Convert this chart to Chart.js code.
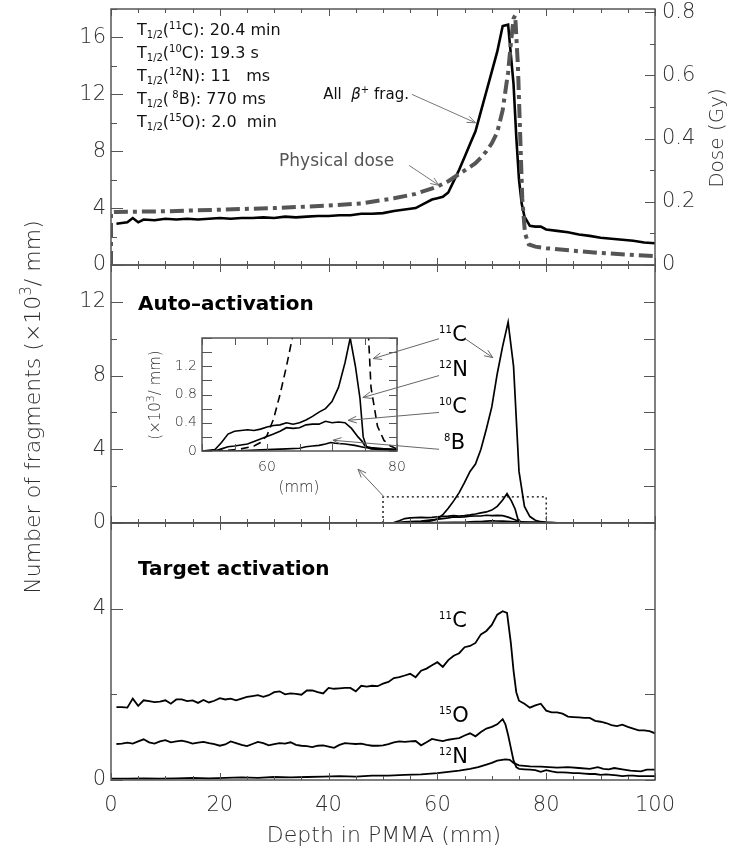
<!DOCTYPE html>
<html>
<head>
<meta charset="utf-8">
<title>Depth profiles of beta+ emitters in PMMA</title>
<script src="https://cdn.jsdelivr.net/npm/chart.js@4.4.1/dist/chart.umd.min.js"></script>
<style>
  html, body { margin: 0; padding: 0; background: #fff; }
  #fig { position: relative; width: 729px; height: 849px; overflow: hidden; background: #fff; }
  #fig canvas { position: absolute; left: 0; top: 0; }
</style>
</head>
<body>
<div id="fig">
  <canvas id="cTop" width="729" height="849"></canvas>
  <canvas id="cAuto" width="729" height="849"></canvas>
  <canvas id="cTarget" width="729" height="849"></canvas>
  <canvas id="cInset" width="729" height="849"></canvas>
</div>
<script>
// ---------- tick labels ----------
const depthTicks = [0, 20, 40, 60, 80, 100];
const fragTicksTop = [0, 4, 8, 12, 16];
const doseTicks = [0, 0.2, 0.4, 0.6, 0.8];
const fragTicksAuto = [0, 4, 8, 12];
const fragTicksTarget = [0, 4];
const insetDepthTicks = [60, 80];
const insetFragTicks = [0, 0.4, 0.8, 1.2];

// ---------- top panel: all beta+ fragments (x10^3/mm) and physical dose (Gy) ----------
const betaDepth = [1, 2, 3, 4, 5, 6, 8, 10, 12, 14, 16, 18, 20, 22, 24, 26, 28, 30, 32, 34, 36, 38, 40, 42, 44, 46, 48, 50, 52, 54, 56, 58,
  59, 60, 61, 62, 63, 64, 65, 66, 67, 68, 69, 70, 71, 72, 73, 73.5, 74, 74.5, 75, 75.5, 76, 77, 78, 79, 80, 82, 84, 86, 88, 90, 92, 94, 96, 98, 100];
const betaAll = [2.9, 2.95, 3.0, 3.3, 3.0, 3.2, 3.15, 3.25, 3.2, 3.25, 3.2, 3.25, 3.3, 3.25, 3.3, 3.3, 3.35, 3.3, 3.4, 3.35, 3.4, 3.45, 3.45, 3.5, 3.5, 3.6, 3.6, 3.65, 3.8, 3.9, 4.0, 4.4,
  4.6, 4.7, 4.8, 5.1, 5.9, 6.7, 7.6, 8.5, 9.4, 10.8, 12.2, 13.6, 15.0, 16.8, 16.9, 14.8, 12.7, 9.0, 6.0, 4.3, 3.4, 2.75, 2.7, 2.7, 2.5, 2.4, 2.3, 2.15, 2.05, 1.92, 1.85, 1.78, 1.7, 1.58, 1.53];

const doseDepth = [0, 0, 1, 10, 20, 30, 40, 46, 52, 56, 60, 62, 64, 66, 67, 68, 69, 70, 71, 72,
  72.5, 73, 73.5, 74, 74.3, 74.8, 75.2, 75.6, 76.1, 76.8, 78, 80, 85, 90, 95, 100];
const doseGy = [0, 0.168, 0.168, 0.170, 0.175, 0.180, 0.188, 0.195, 0.211, 0.225, 0.248, 0.265, 0.288, 0.31, 0.322, 0.34, 0.36, 0.385, 0.42, 0.49,
  0.55, 0.61, 0.70, 0.78, 0.79, 0.63, 0.42, 0.21, 0.10, 0.065, 0.058, 0.053, 0.045, 0.038, 0.033, 0.028];

// ---------- middle panel: auto-activation (x10^3/mm) ----------
const auto11CDepth = [0, 50, 54, 56, 58, 59, 60, 61, 62, 63, 64, 65, 66, 67, 68, 69, 70, 71, 72, 73, 74, 75, 76, 77, 78, 79, 80, 82, 84, 100];
const auto11C = [0, 0, 0.01, 0.03, 0.07, 0.12, 0.22, 0.45, 0.8, 1.2, 1.65, 2.2, 2.8, 3.2, 4.0, 5.1, 6.3, 8.1, 9.6, 10.9, 8.5, 2.8, 0.9, 0.35, 0.15, 0.07, 0.03, 0.01, 0, 0];

const auto12NDepth = [0, 50, 52, 53, 54, 55, 56, 57, 58, 59, 60, 61, 62, 63, 64, 65, 66, 67, 68, 69, 70, 71, 72,
  72.8, 73.6, 74.3, 74.8, 75.3, 76, 77, 78, 80, 82, 84, 100];
const auto12N = [0, 0, 0.02, 0.12, 0.24, 0.28, 0.29, 0.3, 0.29, 0.31, 0.34, 0.36, 0.37, 0.4, 0.38, 0.4, 0.44, 0.49, 0.55, 0.6, 0.7, 0.9, 1.25,
  1.6, 1.2, 0.75, 0.2, 0.06, 0.05, 0.04, 0.03, 0.02, 0.01, 0, 0];

const auto10CDepth = [0, 52, 53, 54, 55, 57, 59, 61, 62, 63, 64, 65, 66, 67, 68, 69, 70, 71, 72, 73, 74, 74.6, 75.1, 76, 78, 80, 82, 100];
const auto10C = [0, 0, 0.03, 0.06, 0.07, 0.1, 0.17, 0.24, 0.28, 0.33, 0.32, 0.33, 0.37, 0.38, 0.38, 0.42, 0.4, 0.41, 0.4, 0.32, 0.2, 0.14, 0.07, 0.03, 0.02, 0.01, 0, 0];

const auto8BDepth = [0, 55, 60, 63, 65, 66, 67, 68, 69, 69.8, 70.5, 72, 73.5, 75, 76, 78, 80, 82, 85, 100];
const auto8B = [0, 0, 0.02, 0.03, 0.04, 0.06, 0.07, 0.08, 0.1, 0.12, 0.11, 0.1, 0.08, 0.05, 0.04, 0.03, 0.02, 0.01, 0, 0];

// region enlarged in the inset
const zoomBoxDepth = [50, 50, 80, 80];
const zoomBoxLevel = [0, 1.42, 1.42, 0];

// ---------- bottom panel: target activation (x10^3/mm) ----------
const target11CDepth = [1, 2, 3, 4, 5, 6, 7, 8, 9, 10, 11, 12, 13, 14, 15, 16, 17, 18, 19, 20, 21, 22, 23, 24, 25, 26, 27, 28, 29, 30,
  31, 32, 33, 34, 35, 36, 37, 38, 39, 40, 41, 42, 43, 44, 45, 46, 47, 48, 49, 50, 51, 52, 53, 54, 55, 56, 57, 58, 59, 60,
  61, 62, 63, 64, 65, 66, 67, 68, 69, 70, 71, 72, 72.8, 73.5, 74, 74.5, 75, 76, 77, 78, 79, 80,
  81, 82, 83, 84, 85, 86, 87, 88, 89, 90, 91, 92, 93, 94, 95, 96, 97, 98, 99, 100];
const target11C = [1.70, 1.70, 1.69, 1.90, 1.73, 1.86, 1.84, 1.82, 1.83, 1.86, 1.78, 1.88, 1.88, 1.84, 1.86, 1.80, 1.87, 1.81, 1.85, 1.91, 1.88, 1.90, 1.86, 1.90, 1.94, 1.96, 1.98, 1.94, 1.98, 2.05,
  2.07, 2.0, 2.02, 2.01, 1.99, 2.09, 2.09, 2.05, 2.02, 2.15, 2.13, 2.14, 2.15, 2.15, 2.07, 2.2, 2.18, 2.2, 2.19, 2.25, 2.29, 2.38, 2.4, 2.44, 2.48, 2.40, 2.55, 2.6, 2.68, 2.75,
  2.64, 2.8, 2.9, 2.96, 3.1, 3.13, 3.2, 3.4, 3.48, 3.62, 3.86, 3.94, 3.9, 3.2, 2.55, 2.05, 1.85, 1.78, 1.69, 1.74, 1.78, 1.62,
  1.58, 1.58, 1.55, 1.48, 1.47, 1.46, 1.45, 1.45, 1.38, 1.36, 1.33, 1.28, 1.26, 1.29, 1.24, 1.2, 1.16, 1.16, 1.14, 1.09];

const target15ODepth = [1, 2, 3, 4, 5, 6, 7, 8, 9, 10, 11, 12, 13, 14, 15, 16, 17, 18, 19, 20, 21, 22, 23, 24, 25, 26, 27, 28, 29, 30,
  31, 32, 33, 34, 35, 36, 37, 38, 39, 40, 41, 42, 43, 44, 45, 46, 47, 48, 49, 50, 51, 52, 53, 54, 55, 56, 57, 58, 59, 60,
  61, 62, 63, 64, 65, 66, 67, 68, 69, 70, 71, 72, 72.5, 73, 73.5, 74, 74.5, 75, 76, 77, 78, 79, 80,
  81, 82, 83, 84, 85, 86, 87, 88, 89, 90, 91, 92, 93, 94, 95, 96, 97, 98, 99, 100];
const target15O = [0.84, 0.85, 0.87, 0.85, 0.9, 0.95, 0.88, 0.85, 0.9, 0.93, 0.88, 0.9, 0.92, 0.89, 0.85, 0.87, 0.89, 0.86, 0.84, 0.8, 0.83, 0.9, 0.86, 0.82, 0.79, 0.84, 0.89, 0.86, 0.81, 0.84,
  0.86, 0.85, 0.88, 0.82, 0.8, 0.79, 0.77, 0.8, 0.81, 0.78, 0.75, 0.82, 0.86, 0.85, 0.84, 0.85, 0.82, 0.8, 0.8, 0.81, 0.84, 0.88, 0.9, 0.89, 0.9, 0.91, 0.81, 0.88, 0.96, 0.93,
  0.91, 0.94, 0.96, 0.98, 1.04, 1.09, 1.02, 1.12, 1.2, 1.24, 1.3, 1.42, 1.3, 1.05, 0.75, 0.45, 0.3, 0.26, 0.25, 0.24, 0.23, 0.19, 0.23,
  0.2, 0.18, 0.18, 0.17, 0.16, 0.16, 0.15, 0.14, 0.14, 0.12, 0.13, 0.12, 0.11, 0.09, 0.1, 0.1, 0.09, 0.09, 0.09, 0.09];

const target12NDepth = [0, 3, 6, 9, 12, 15, 18, 21, 24, 27, 30, 33, 36, 39, 42, 45, 48, 51, 54, 57, 60,
  62, 64, 66, 67.5, 69, 70, 71, 72.5, 73.3, 74, 75, 76, 77, 79, 80.5, 82, 84, 86, 88, 89.5, 90.5, 91.5, 92.5, 94, 95.5, 97.4, 98.5, 100];
const target12N = [0.03, 0.03, 0.04, 0.03, 0.04, 0.05, 0.04, 0.05, 0.06, 0.05, 0.07, 0.06, 0.07, 0.08, 0.09, 0.08, 0.1, 0.1, 0.12, 0.13, 0.16,
  0.19, 0.22, 0.26, 0.3, 0.36, 0.4, 0.45, 0.48, 0.47, 0.4, 0.34, 0.33, 0.32, 0.31, 0.3, 0.29, 0.3, 0.28, 0.26, 0.3, 0.26, 0.25, 0.28, 0.25, 0.22, 0.2, 0.24, 0.24];

// ---------- helpers ----------
const FONT = '"DejaVu Sans", "Liberation Sans", sans-serif';
const GREY = '#2e2e2e';
const AXIS_WEIGHT = '300';
Chart.defaults.font.family = FONT;
Chart.defaults.animation = false;

const pts = (xs, ys) => xs.map((x, i) => ({ x: x, y: ys[i] }));
const fmt = v => String(+Number(v).toFixed(2));
const useTicks = values => s => { s.ticks = values.map(v => ({ value: v })); };
const yWidth = w => s => { s.width = w; s.paddingTop = 0; s.paddingBottom = 0; };
const xHeight = h => s => { s.height = h; s.paddingLeft = 0; s.paddingRight = 0; };

function line(data, color, width, extra) {
  return Object.assign({ data: data, borderColor: color, borderWidth: width, pointRadius: 0, tension: 0, fill: false }, extra || {});
}

// inward tick marks along every edge plus the panel frame
function frameTicks(spec) {
  return {
    id: 'frameTicks',
    afterDatasetsDraw(chart) {
      const { ctx, chartArea: a, scales } = chart;
      ctx.save();
      ctx.strokeStyle = '#555';
      ctx.lineWidth = 1;
      ctx.beginPath();
      const xs = scales.x;
      const X = spec.x;
      for (let k = Math.ceil(xs.min / X.step - 1e-9); k * X.step <= xs.max + 1e-9; k++) {
        const v = k * X.step;
        const px = Math.round(xs.getPixelForValue(v)) + 0.5;
        const major = Math.abs(v / X.major - Math.round(v / X.major)) < 1e-6;
        const len = major ? X.majLen : X.minLen;
        ctx.moveTo(px, a.bottom); ctx.lineTo(px, a.bottom - len);
        ctx.moveTo(px, a.top); ctx.lineTo(px, a.top + len);
      }
      for (const side of spec.y) {
        const s = scales[side.id];
        for (let k = Math.ceil(s.min / side.step - 1e-9); k * side.step <= s.max + 1e-9; k++) {
          const v = k * side.step;
          const py = Math.round(s.getPixelForValue(v)) + 0.5;
          const major = Math.abs(v / side.major - Math.round(v / side.major)) < 1e-6;
          const len = major ? side.majLen : side.minLen;
          if (side.left) { ctx.moveTo(a.left, py); ctx.lineTo(a.left + len, py); }
          else { ctx.moveTo(a.right, py); ctx.lineTo(a.right - len, py); }
        }
      }
      ctx.stroke();
      ctx.lineWidth = 1.5;
      ctx.strokeRect(a.left, a.top, a.width, a.height);
      ctx.restore();
    }
  };
}

// text with super/subscripts: parts = [[text, mode]] with mode 0 normal, 1 sup, -1 sub
function richWidth(ctx, parts, size, opt) {
  let w = 0;
  for (const [t, mode, style] of parts) {
    const s = mode === 0 ? size : (opt.scriptSize || Math.round(size * 0.62));
    ctx.font = `${style || ''} ${opt.weight || 'normal'} ${s}px ${FONT}`;
    w += ctx.measureText(t).width;
  }
  return w;
}
function richText(ctx, x, y, parts, size, opt) {
  opt = opt || {};
  ctx.save();
  ctx.fillStyle = opt.color || '#111';
  ctx.textBaseline = 'alphabetic';
  ctx.textAlign = 'left';
  let cx = x;
  if (opt.center) cx = x - richWidth(ctx, parts, size, opt) / 2;
  for (const [t, mode, style] of parts) {
    const s = mode === 0 ? size : (opt.scriptSize || Math.round(size * 0.62));
    ctx.font = `${style || ''} ${opt.weight || 'normal'} ${s}px ${FONT}`;
    const dy = mode === 1 ? -(opt.supRise || size * 0.42) : mode === -1 ? (opt.subDrop || size * 0.25) : 0;
    ctx.fillText(t, cx, y + dy);
    cx += ctx.measureText(t).width;
  }
  ctx.restore();
  return cx;
}
function rotatedRich(ctx, cx, cy, parts, size, opt) {
  ctx.save();
  ctx.translate(cx, cy);
  ctx.rotate(-Math.PI / 2);
  richText(ctx, 0, size * 0.36, parts, size, Object.assign({ center: true }, opt));
  ctx.restore();
}
function arrow(ctx, x1, y1, x2, y2, color) {
  const head = 9, spread = 0.38;
  const ang = Math.atan2(y2 - y1, x2 - x1);
  ctx.save();
  ctx.strokeStyle = color || '#666';
  ctx.lineWidth = 1;
  ctx.beginPath();
  ctx.moveTo(x1, y1); ctx.lineTo(x2, y2);
  ctx.moveTo(x2 - head * Math.cos(ang - spread), y2 - head * Math.sin(ang - spread));
  ctx.lineTo(x2, y2);
  ctx.lineTo(x2 - head * Math.cos(ang + spread), y2 - head * Math.sin(ang + spread));
  ctx.stroke();
  ctx.restore();
}
function isoLabel(ctx, px, py, mass, el) {
  ctx.save();
  ctx.fillStyle = '#000';
  ctx.textBaseline = 'alphabetic';
  ctx.font = `10px ${FONT}`;
  ctx.fillText(mass, px, py - 8);
  const w = ctx.measureText(mass).width;
  ctx.font = `21px ${FONT}`;
  ctx.fillText(el, px + w + 0.5, py);
  ctx.restore();
}
function leftAxis(min, max, ticks) {
  return {
    position: 'left', min: min, max: max,
    afterFit: yWidth(111), afterBuildTicks: useTicks(ticks),
    grid: { display: false, drawTicks: false }, border: { display: false },
    ticks: { padding: 5, color: GREY, font: { size: 21, weight: AXIS_WEIGHT }, callback: fmt }
  };
}
const hiddenDepth = { type: 'linear', min: 0, max: 100, display: false };
const baseOpts = { responsive: false, devicePixelRatio: 1, animation: false, events: [],
  plugins: { legend: { display: false }, tooltip: { enabled: false } } };

// ---------- top panel ----------
const topNotes = {
  id: 'topNotes',
  afterDraw(chart) {
    const { ctx, chartArea: a, scales: { x, y } } = chart;
    const rows = [['11', 'C): 20.4 min'], ['10', 'C): 19.3 s'], ['12', 'N): 11   ms'], [' 8', 'B): 770 ms'], ['15', 'O): 2.0  min']];
    rows.forEach((r, i) => {
      richText(ctx, a.left + 26, a.top + 26 + i * 23,
        [['T', 0], ['1/2', -1], ['(', 0], [r[0], 1], [r[1], 0]], 16,
        { color: '#111', scriptSize: 10, supRise: 6, subDrop: 3 });
    });
    richText(ctx, x.getPixelForValue(39.0), y.getPixelForValue(11.7),
      [['All  ', 0], ['β', 0, 'italic'], ['+', 1], [' frag.', 0]], 15, { color: '#111', scriptSize: 10, supRise: 6 });
    arrow(ctx, x.getPixelForValue(55.3), y.getPixelForValue(12.0), x.getPixelForValue(67.0), y.getPixelForValue(10.0), '#777');
    richText(ctx, x.getPixelForValue(30.9), y.getPixelForValue(6.94), [['Physical dose', 0]], 17, { color: '#555' });
    arrow(ctx, x.getPixelForValue(54.8), y.getPixelForValue(7.0), x.getPixelForValue(60.3), y.getPixelForValue(5.6), '#777');
    rotatedRich(ctx, 716, 138, [['Dose (Gy)', 0]], 20, { color: GREY, weight: AXIS_WEIGHT });
  }
};

const topChart = new Chart(document.getElementById('cTop'), {
  type: 'line',
  data: { datasets: [
    line(pts(betaDepth, betaAll), '#000', 2.6, { yAxisID: 'y', order: 1, label: 'All beta+ fragments' }),
    line(pts(doseDepth, doseGy), '#555', 4, { yAxisID: 'y2', order: 0, borderDash: [14, 5, 4, 5], label: 'Physical dose' })
  ] },
  options: Object.assign({}, baseOpts, {
    layout: { padding: { top: 9, bottom: 849 - 265, left: 0, right: 0 } },
    scales: {
      x: hiddenDepth,
      y: leftAxis(0, 18, fragTicksTop),
      y2: {
        position: 'right', min: 0, max: 0.81,
        afterFit: yWidth(74), afterBuildTicks: useTicks(doseTicks),
        grid: { display: false, drawTicks: false }, border: { display: false },
        ticks: { padding: 7, color: GREY, font: { size: 21, weight: AXIS_WEIGHT }, callback: fmt }
      }
    }
  }),
  plugins: [frameTicks({
    x: { step: 5, major: 20, majLen: 7, minLen: 4 },
    y: [{ id: 'y', left: true, step: 2, major: 4, majLen: 12, minLen: 6 },
        { id: 'y2', left: false, step: 0.1, major: 0.2, majLen: 10, minLen: 5 }]
  }), topNotes]
});

// ---------- middle panel ----------
const autoChart = new Chart(document.getElementById('cAuto'), {
  type: 'line',
  data: { datasets: [
    line(pts(auto11CDepth, auto11C), '#000', 1.7, { label: '11C' }),
    line(pts(auto12NDepth, auto12N), '#000', 1.7, { label: '12N' }),
    line(pts(auto10CDepth, auto10C), '#000', 1.7, { label: '10C' }),
    line(pts(auto8BDepth, auto8B), '#000', 1.7, { label: '8B' }),
    line(pts(zoomBoxDepth, zoomBoxLevel), '#000', 1.3, { borderDash: [2, 3], label: 'inset region' })
  ] },
  options: Object.assign({}, baseOpts, {
    layout: { padding: { top: 265, bottom: 849 - 523, left: 0, right: 74 } },
    scales: { x: hiddenDepth, y: leftAxis(0, 14, fragTicksAuto) }
  }),
  plugins: [frameTicks({
    x: { step: 5, major: 20, majLen: 7, minLen: 4 },
    y: [{ id: 'y', left: true, step: 2, major: 4, majLen: 12, minLen: 6 },
        { id: 'y', left: false, step: 2, major: 2, majLen: 11, minLen: 11 }]
  }), {
    id: 'autoTitle',
    afterDraw(chart) {
      richText(chart.ctx, chart.chartArea.left + 27, chart.chartArea.top + 45, [['Auto–activation', 0]], 20, { weight: 'bold', color: '#000' });
    }
  }]
});

// ---------- bottom panel ----------
const targetChart = new Chart(document.getElementById('cTarget'), {
  type: 'line',
  data: { datasets: [
    line(pts(target11CDepth, target11C), '#000', 1.8, { label: '11C' }),
    line(pts(target15ODepth, target15O), '#000', 1.8, { label: '15O' }),
    line(pts(target12NDepth, target12N), '#000', 1.8, { label: '12N' })
  ] },
  options: Object.assign({}, baseOpts, {
    layout: { padding: { top: 523, bottom: 0, left: 0, right: 74 } },
    scales: {
      x: {
        type: 'linear', min: 0, max: 100, position: 'bottom',
        afterFit: xHeight(849 - 780), afterBuildTicks: useTicks(depthTicks),
        grid: { display: false, drawTicks: false }, border: { display: false },
        ticks: { padding: 13, color: GREY, font: { size: 21, weight: AXIS_WEIGHT }, maxRotation: 0, autoSkip: false, callback: fmt }
      },
      y: leftAxis(0, 6, fragTicksTarget)
    }
  }),
  plugins: [frameTicks({
    x: { step: 5, major: 20, majLen: 7, minLen: 4 },
    y: [{ id: 'y', left: true, step: 2, major: 4, majLen: 12, minLen: 6 },
        { id: 'y', left: false, step: 2, major: 2, majLen: 10, minLen: 10 }]
  }), {
    id: 'targetNotes',
    afterDraw(chart) {
      const { ctx, chartArea: a, scales: { x, y } } = chart;
      richText(ctx, a.left + 27, a.top + 52, [['Target activation', 0]], 20, { weight: 'bold', color: '#000' });
      isoLabel(ctx, x.getPixelForValue(60.3), y.getPixelForValue(3.58), '11', 'C');
      isoLabel(ctx, x.getPixelForValue(60.3), y.getPixelForValue(1.35), '15', 'O');
      isoLabel(ctx, x.getPixelForValue(60.3), y.getPixelForValue(0.40), '12', 'N');
      richText(ctx, (a.left + a.right) / 2 + 1, 842, [['Depth in PMMA (mm)', 0]], 22, { color: GREY, center: true, weight: AXIS_WEIGHT });
      rotatedRich(ctx, 32, 407, [['Number of fragments (×10', 0], ['3', 1], ['/ mm)', 0]], 22,
        { color: GREY, scriptSize: 15, supRise: 9, weight: AXIS_WEIGHT });
    }
  }]
});

// ---------- inset: enlarged low-yield region of the auto-activation profiles ----------
const insetChart = new Chart(document.getElementById('cInset'), {
  type: 'line',
  data: { datasets: [
    line(pts(auto11CDepth, auto11C), '#000', 1.6, { borderDash: [8, 5], label: '11C' }),
    line(pts(auto12NDepth, auto12N), '#000', 1.6, { label: '12N' }),
    line(pts(auto10CDepth, auto10C), '#000', 1.6, { label: '10C' }),
    line(pts(auto8BDepth, auto8B), '#000', 1.6, { label: '8B' })
  ] },
  options: Object.assign({}, baseOpts, {
    layout: { padding: { top: 338, bottom: 849 - 451 - 50, left: 145, right: 729 - 397 } },
    scales: {
      x: {
        type: 'linear', min: 50, max: 80, position: 'bottom',
        afterFit: xHeight(50), afterBuildTicks: useTicks(insetDepthTicks),
        grid: { display: false, drawTicks: false }, border: { display: false },
        ticks: { padding: 8, color: GREY, font: { size: 14, weight: AXIS_WEIGHT }, maxRotation: 0, autoSkip: false, callback: fmt }
      },
      y: {
        position: 'left', min: 0, max: 1.6,
        afterFit: yWidth(57), afterBuildTicks: useTicks(insetFragTicks),
        grid: { display: false, drawTicks: false }, border: { display: false },
        ticks: { padding: 5, color: GREY, font: { size: 14, weight: AXIS_WEIGHT }, callback: fmt }
      }
    }
  }),
  plugins: [{
    id: 'insetBackground',
    beforeDraw(chart) {
      const { ctx, chartArea: a } = chart;
      ctx.save(); ctx.fillStyle = '#fff'; ctx.fillRect(a.left, a.top, a.width, a.height); ctx.restore();
    }
  }, frameTicks({
    x: { step: 5, major: 5, majLen: 7, minLen: 7 },
    y: [{ id: 'y', left: true, step: 0.2, major: 0.2, majLen: 10, minLen: 10 },
        { id: 'y', left: false, step: 0.2, major: 0.2, majLen: 8, minLen: 8 }]
  }), {
    id: 'insetNotes',
    afterDraw(chart) {
      const { ctx } = chart;
      richText(ctx, 299, 492, [['(mm)', 0]], 15, { color: GREY, center: true, weight: AXIS_WEIGHT });
      rotatedRich(ctx, 155, 395, [['(×10', 0], ['3', 1], ['/ mm)', 0]], 15, { color: GREY, scriptSize: 11, supRise: 6, weight: AXIS_WEIGHT });
      // isotope labels and pointers of the auto-activation panel
      const ax = autoChart.scales.x, ay = autoChart.scales.y;
      const P = (d, v) => [ax.getPixelForValue(d), ay.getPixelForValue(v)];
      isoLabel(ctx, ...P(60.3, 9.9), '11', 'C');
      isoLabel(ctx, ...P(60.3, 7.95), '12', 'N');
      isoLabel(ctx, ...P(60.3, 5.95), '10', 'C');
      isoLabel(ctx, ...P(61.2, 4.0), '8', 'B');
      arrow(ctx, ...P(60.3, 10.0), ...P(48.2, 8.92));
      arrow(ctx, ...P(65.1, 10.0), ...P(70.2, 8.97));
      arrow(ctx, ...P(60.3, 8.0), ...P(46.3, 6.81));
      arrow(ctx, ...P(60.3, 6.0), ...P(43.6, 5.57));
      arrow(ctx, ...P(60.3, 4.0), ...P(40.8, 4.49));
      arrow(ctx, ...P(50.2, 1.42), ...P(45.4, 2.92));
    }
  }]
});
</script>
</body>
</html>
